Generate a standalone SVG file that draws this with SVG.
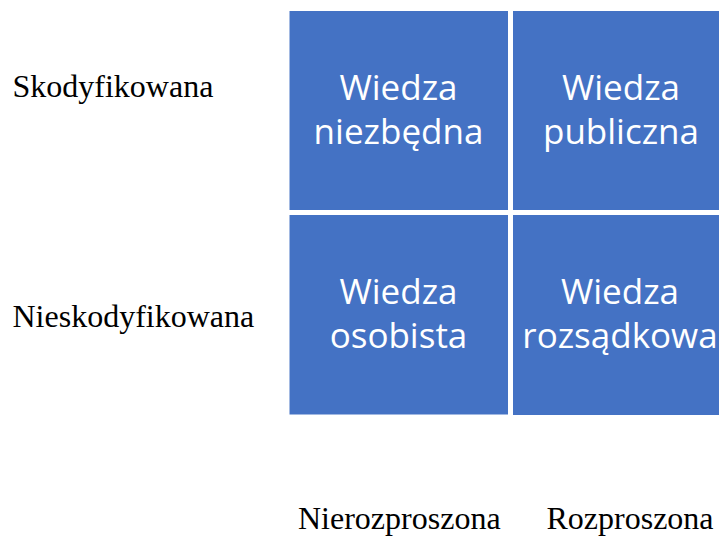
<svg xmlns="http://www.w3.org/2000/svg" width="719" height="537" viewBox="0 0 719 537">
<style>
.cell{fill:#4472C4;stroke:#ffffff;stroke-width:1}
.in{fill:#ffffff;font-family:"Open Sans","Noto Sans",sans-serif;font-size:35px;text-anchor:middle}
.lab{fill:#000000;font-family:"Liberation Serif","Times New Roman",serif;font-size:32px}
</style>
<rect width="719" height="537" fill="#ffffff"/>
<g id="n-niezbedna">
<rect class="cell" x="289" y="10.5" width="219.5" height="200"/>
<text class="in" x="398.5" y="100">Wiedza</text>
<text class="in" x="398.5" y="144">niezbędna</text>
</g>
<g id="n-publiczna">
<rect class="cell" x="512.5" y="10.5" width="219" height="200"/>
<text class="in" x="621" y="100">Wiedza</text>
<text class="in" x="621" y="144">publiczna</text>
</g>
<g id="n-osobista">
<rect class="cell" x="289" y="214.5" width="219.5" height="200.5"/>
<text class="in" x="398.5" y="304">Wiedza</text>
<text class="in" x="398.5" y="348">osobista</text>
</g>
<g id="n-rozsadkowa">
<rect class="cell" x="512.5" y="214.5" width="219" height="201"/>
<text class="in" x="620" y="304">Wiedza</text>
<text class="in" x="620" y="348">rozsądkowa</text>
</g>
<g id="connectors"></g>
<g id="labels">
<text class="lab" x="12.5" y="97">Skodyfikowana</text>
<text class="lab" x="12.5" y="327">Nieskodyfikowana</text>
<text class="lab" x="298" y="529">Nierozproszona</text>
<text class="lab" x="546.5" y="529">Rozproszona</text>
</g>
</svg>
